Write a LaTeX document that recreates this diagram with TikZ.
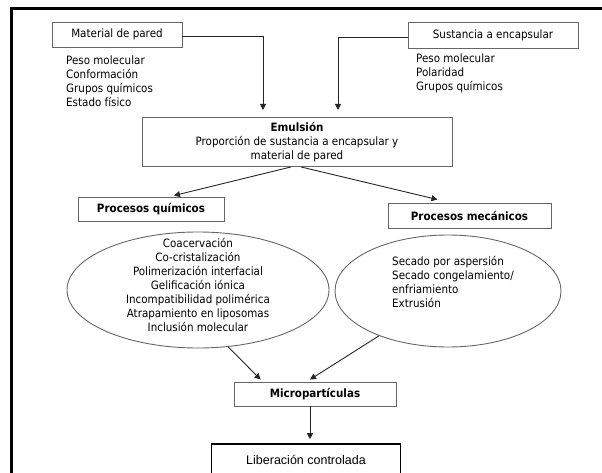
\documentclass[tikz,border=0pt]{standalone}
\usepackage{fontspec}
\setmainfont{DejaVu Sans Condensed}
\newfontfamily\arialf{Liberation Sans}
\usetikzlibrary{shapes.geometric,arrows.meta}
\begin{document}
\begin{tikzpicture}[x=1pt,y=-1pt,
 box/.style={draw=black!60, line width=0.9pt, rectangle, inner sep=0pt, font=\fontsize{11.5}{14}\selectfont},
 bbox/.style={box, font=\fontsize{11.5}{14}\selectfont\bfseries},
 lst/.style={align=left, anchor=north west, inner sep=0pt, font=\fontsize{11.5}{14}\selectfont},
 ctxt/.style={align=center, inner sep=0pt, font=\fontsize{11.5}{14}\selectfont},
 oval/.style={draw=black!60, line width=0.9pt, ellipse, inner sep=0pt},
 arr/.style={-{Triangle[length=6pt,width=6pt]}, line width=0.9pt, black!85}]
\useasboundingbox (0,0) rectangle (602,473);
\draw[line width=3pt] (11,490) -- (11,9) -- (606,9);

\node[box, minimum width=130pt, minimum height=25pt] (mat) at (117,34.5) {Material de pared};
\node[box, minimum width=170pt, minimum height=26pt] (sus) at (493,35) {Sustancia a encapsular};
\node[lst] (l1) at (66,56) {Peso molecular\\Conformación\\Grupos químicos\\Estado físico};
\node[lst] (l2) at (416,54) {Peso molecular\\Polaridad\\Grupos químicos};

\node[box, minimum width=310pt, minimum height=49pt, align=center] (emul) at (297,142)
  {{\bfseries Emulsión}\\Proporción de sustancia a encapsular y\\material de pared};

\node[bbox, minimum width=146pt, minimum height=24pt] (pq) at (151,209) {Procesos químicos};
\node[bbox, minimum width=163pt, minimum height=25pt] (pm) at (469.5,215.5) {Procesos mecánicos};

\node[oval, minimum width=262pt, minimum height=116pt] (ell1) at (198,290) {};
\node[ctxt] (t1) at (198,285) {Coacervación\\Co-cristalización\\Polimerización interfacial\\Gelificación iónica\\Incompatibilidad polimérica\\Atrapamiento en liposomas\\Inclusión molecular};
\node[oval, minimum width=226pt, minimum height=112pt] (ell2) at (448,291) {};
\node[lst] (t2) at (392,256) {Secado por aspersión\\Secado congelamiento/\\enfriamiento\\Extrusión};

\node[bbox, minimum width=162pt, minimum height=24pt] (micro) at (315,394) {Micropartículas};
\node[draw=black, line width=1.6pt, rectangle, minimum width=189pt, minimum height=36pt, font=\arialf\fontsize{12.5}{14}\selectfont] (lib) at (306,462) {\raisebox{5pt}{Liberación controlada}};

\coordinate (in1) at (263,110);
\coordinate (in2) at (338,110);
\draw[arr] ([yshift=-2pt]mat.east) -| (in1);
\draw[arr] ([yshift=-2pt]sus.west) -| (in2);
\draw[arr] ([xshift=-6pt]emul.south) -- ([xshift=23pt,yshift=1pt]pq.north);
\draw[arr] ([xshift=4pt]emul.south) -- ([xshift=-32pt,yshift=3pt]pm.north);
\draw[arr] (ell1.-62) -- ([xshift=27pt,yshift=2pt]micro.north west);
\draw[arr] (ell2.213) -- ([xshift=-5pt,yshift=2pt]micro.north);
\draw[arr] ([xshift=-5pt]micro.south) -- ([xshift=4pt,yshift=4pt]lib.north);
\end{tikzpicture}
\end{document}
